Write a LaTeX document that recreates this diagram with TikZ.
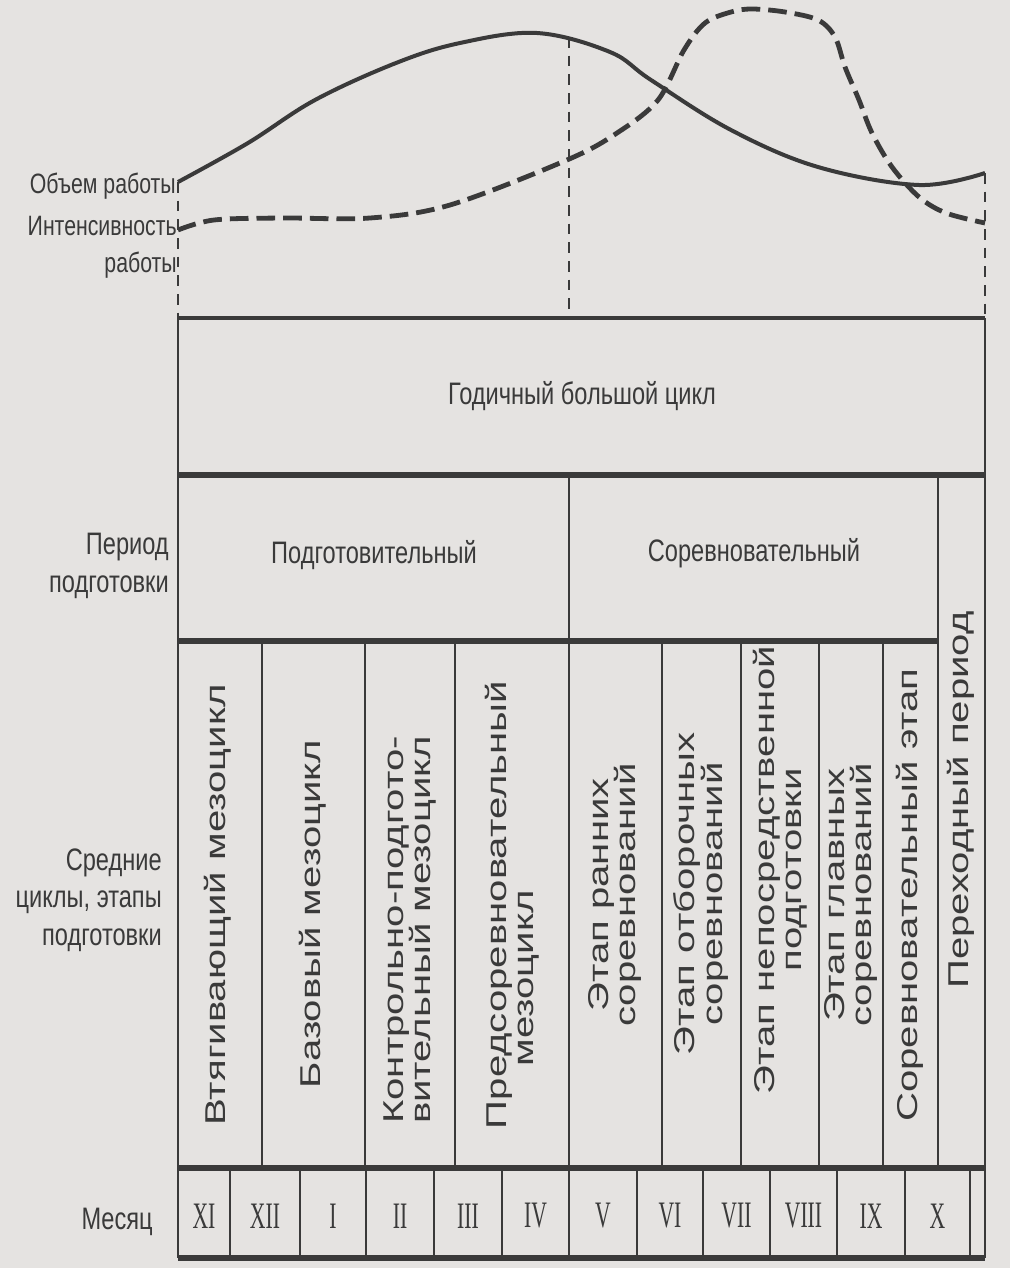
\documentclass[tikz,border=0pt]{standalone}
\usepackage{fontspec}
\setmainfont{Liberation Sans}
\newfontfamily\narrowsf[FakeStretch=0.76]{Liberation Sans}
\newfontfamily\widesf[FakeStretch=1.4]{Liberation Sans}
\newfontfamily\monthrm[FakeStretch=0.58]{Liberation Serif}
\definecolor{ink}{HTML}{3A3A3A}
\definecolor{paper}{HTML}{E5E3E1}
\setlength{\lineskiplimit}{-20pt}

\begin{document}
\begin{tikzpicture}[x=0.75pt,y=0.75pt,yscale=-1,xscale=1,
    thinline/.style={draw=ink,line width=1.8pt},
    midline/.style={draw=ink,line width=3pt},
    thickline/.style={draw=ink,line width=4.5pt},
    guide/.style={draw=ink,line width=1.1pt,dash pattern=on 8pt off 6pt},
    volume/.style={draw=ink,line width=3pt},
    intensity/.style={draw=ink,line width=3.6pt,dash pattern=on 14pt off 6pt},
    sidelabel/.style={text=ink,font=\narrowsf\fontsize{23.3}{28}\selectfont,align=right,anchor=east,inner sep=0pt},
    curvelabel/.style={sidelabel,font=\narrowsf\fontsize{21}{27.5}\selectfont},
    cellhead/.style={text=ink,font=\narrowsf\fontsize{23.3}{28}\selectfont,inner sep=0pt},
    stage/.style={text=ink,font=\widesf\fontsize{21.5}{20.5}\selectfont,rotate=90,align=center,inner sep=0pt},
    month/.style={text=ink,font=\monthrm\fontsize{28}{30}\selectfont,inner sep=0pt}]
    \useasboundingbox (0,0) rectangle (1010,1268);
    \fill[paper] (0,0) rectangle (1010,1268);

    %Coordinates of the curve ends and of the table top
    \coordinate (vol-start) at (178,182);
    \coordinate (vol-end) at (985,173);
    \coordinate (vol-mid) at (569,37);
    \coordinate (box-nw) at (178,318);
    \coordinate (box-mid) at (569,318);
    \coordinate (box-ne) at (985,318);

    %Curve Lines: volume of work
    \draw[volume] plot[smooth,tension=.6] coordinates {(178,182) (248,143) (315,100) (396,63) (460,43) (537,33) (610,52) (651,80) (731,130) (818,167) (919,185) (985,173)};
    %Curve Lines: intensity of work
    \draw[intensity] plot[smooth,tension=.55] coordinates {(178,230) (214,220) (282,218) (370,218) (450,205) (567,160) (617,133) (658,100) (684,50) (705,23) (731,12) (752,9) (785,12) (818,20) (835,37) (845,67) (859,100) (872,133) (892,167) (919,197) (946,213) (985,223)};

    %Straight Lines: dashed guides
    \draw[guide] (vol-start) -- (box-nw);
    \draw[guide] (vol-mid) -- (box-mid);
    \draw[guide] (vol-end) -- (box-ne);

    %Straight Lines: table frame
    \draw[thinline] (box-nw) -- (178,1258);
    \draw[thinline] (box-ne) -- (985,1258);
    \draw[midline] (box-nw) -- (box-ne);
    \draw[thickline] (178,475) -- (985,475);
    \draw[thickline] (178,641) -- (938,641);
    \draw[thickline] (178,1168) -- (985,1168);
    \draw[thickline] (178,1258) -- (985,1258);
    \draw[thinline] (569,475) -- (569,1168);
    \draw[thinline] (938,475) -- (938,1168);
    \foreach \x in {262,365,455,662,741,819,883}
        \draw[thinline] (\x,641) -- (\x,1168);
    \foreach \x in {230,300,366,434,502,569,637,703,770,837,905,970}
        \draw[thinline] (\x,1168) -- (\x,1258);

    %Text nodes
    \node[curvelabel] (vol-label) at (176,186) {Объем работы};
    \node[curvelabel] (int-label) at (177,247) {Интенсивность\\работы};
    \node[cellhead] (year) at (582,396) {Годичный большой цикл};
    \node[sidelabel] (period-label) at (169,566) {Период\\подготовки};
    \node[cellhead] (prep) at (374,555) {Подготовительный};
    \node[cellhead] (comp) at (754,553) {Соревновательный};
    \node[sidelabel] (stage-label) at (162,900) {Средние\\циклы, этапы\\подготовки};
    \node[sidelabel] (month-label) at (153,1222) {Месяц};

    %Rotated stage names
    \node[stage] (st1) at (218,905) {Втягивающий мезоцикл};
    \node[stage] (st2) at (313,914) {Базовый мезоцикл};
    \node[stage,anchor=west,align=left] (st3) at (410,1124) {Контрольно-подгото-\\вительный мезоцикл};
    \node[stage] (st4) at (512,905) {Предсоревновательный\\мезоцикл\hspace*{110pt}};
    \node[stage] (st5) at (615,895) {Этап ранних\\соревнований};
    \node[stage] (st6) at (701,894) {Этап отборочных\\соревнований};
    \node[stage] (st7) at (780,870) {Этап непосредственной\\подготовки};
    \node[stage] (st8) at (851,895) {Этап главных\\соревнований};
    \node[stage] (st9) at (910,895) {Соревновательный этап};
    \node[stage] (st10) at (961,800) {Переходный период};

    %Months
    \foreach \m/\x in {XI/204,XII/265,I/333,II/400,III/468,IV/535.5,V/603,VI/670,VII/736.5,VIII/803.5,IX/871,X/937.5}
        \node[month] (month-\m) at (\x,1216) {\m};
\end{tikzpicture}
\end{document}
